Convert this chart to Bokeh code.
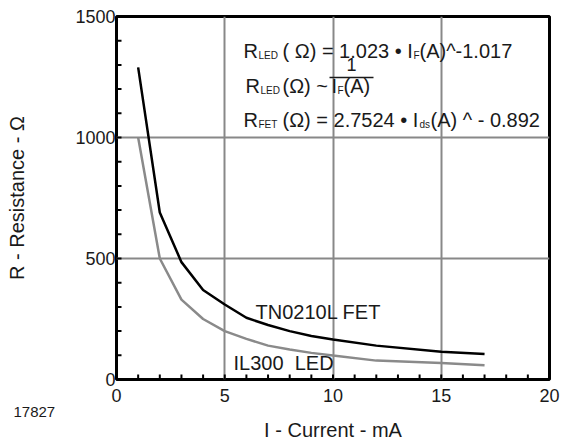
from bokeh.plotting import figure
from bokeh.models import Range1d, SingleIntervalTicker, Label, Arrow, Title
from bokeh.embed import file_html
from bokeh.resources import INLINE

# ---- data ----
current_ma = [1, 2, 3, 4, 5, 6, 7, 8, 9, 10, 12, 15, 17]
fet_ohm = [1290, 690, 485, 370, 310, 255, 225, 200, 180, 165, 140, 115, 105]
led_ohm = [1000, 500, 330, 250, 200, 168, 140, 124, 110, 99, 78, 68, 59]

x_ticks_interval = 5
y_ticks_interval = 500
x_minor_step = 1
y_minor_step = 100

FONT = "Liberation Sans"
TXT = "#1a1a1a"

FRAME_L, FRAME_T, FRAME_W, FRAME_H = 116, 16, 433, 363  # image pixels
LABEL_DY = 8  # correction for Label baseline placement


def dx(px):
    return (px - FRAME_L) * 20.0 / FRAME_W


def dy(py):
    return (FRAME_T + FRAME_H - py) * 1500.0 / FRAME_H


p = figure(width=563, height=443, frame_width=FRAME_W, frame_height=FRAME_H,
           min_border_left=116, min_border_right=14, min_border_top=16, min_border_bottom=64,
           x_range=Range1d(0, 20), y_range=Range1d(0, 1500),
           output_backend="svg", toolbar_location=None)

p.background_fill_color = "white"
p.border_fill_color = "white"
p.outline_line_color = "black"
p.outline_line_width = 3

for ax, iv in ((p.xaxis[0], x_ticks_interval), (p.yaxis[0], y_ticks_interval)):
    ax.ticker = SingleIntervalTicker(interval=iv, num_minor_ticks=5)
    ax.axis_line_color = None
    ax.major_tick_line_color = None
    ax.minor_tick_line_color = None
    ax.major_tick_in = 0
    ax.major_tick_out = 0
    ax.minor_tick_in = 0
    ax.minor_tick_out = 0
    ax.major_label_text_font = FONT
    ax.major_label_text_font_size = "18px"
    ax.major_label_text_color = TXT
    ax.axis_label_text_font = FONT
    ax.axis_label_text_font_size = "20px"
    ax.axis_label_text_font_style = "normal"
    ax.axis_label_text_color = TXT

p.yaxis.axis_label = "R - Resistance - Ω"
p.xaxis.major_label_standoff = 9
p.yaxis.major_label_standoff = 1
p.yaxis.axis_label_standoff = 44

# figure id and x-axis title stacked below the tick labels
p.add_layout(Title(text="17827", align="left", offset=-103, standoff=0,
                   text_font=FONT, text_font_size="15px", text_font_style="normal",
                   text_color=TXT), "below")
p.add_layout(Title(text="I - Current - mA", align="center", standoff=0,
                   text_font=FONT, text_font_size="20px", text_font_style="normal",
                   text_color=TXT), "below")

p.xgrid.ticker = SingleIntervalTicker(interval=x_ticks_interval)
p.ygrid.ticker = SingleIntervalTicker(interval=y_ticks_interval)
for g in (p.xgrid[0], p.ygrid[0]):
    g.grid_line_color = "#888888"
    g.grid_line_width = 2

# inward tick marks, 5 px long
xt = [i * x_minor_step for i in range(0, 21)]
yt = [i * y_minor_step for i in range(0, 16)]
tick_y = 5 * 1500.0 / FRAME_H
tick_x = 5 * 20.0 / FRAME_W
p.segment(x0=xt, y0=[0] * len(xt), x1=xt, y1=[tick_y] * len(xt),
          line_color="black", line_width=2)
p.segment(x0=[0] * len(yt), y0=yt, x1=[tick_x] * len(yt), y1=yt,
          line_color="black", line_width=2)

p.line(current_ma, led_ohm, line_color="#8a8a8a", line_width=2.5)
p.line(current_ma, fet_ohm, line_color="black", line_width=2.5)


def lab(px, py, text, size, color=TXT, align="left"):
    p.add_layout(Label(x=dx(px), y=dy(py - LABEL_DY), text=text, text_font=FONT,
                       text_font_size=f"{size}px", text_color=color,
                       text_align=align, text_baseline="alphabetic"))


# curve labels
lab(255, 319, "TN0210L FET", 20)
lab(233, 370, "IL300\u00a0\u00a0LED", 20)

# equation line 1
lab(243, 58, "R", 20)
lab(258, 63, "LED", 10)
lab(282, 58, "(\u00a0Ω) = 1.023 • I", 20)
lab(413, 63, "F", 10)
lab(419, 58, "(A)^-1.017", 20)

# equation line 2
lab(245, 93, "R", 20)
lab(260, 98, "LED", 10)
lab(282, 93, "(Ω) ~", 20)
lab(351, 72, "1", 18, align="center")
p.add_layout(Arrow(end=None, x_start=dx(329), y_start=dy(77), x_end=dx(373), y_end=dy(77),
                   line_color=TXT, line_width=1.5))
lab(331, 93, "I", 20)
lab(337, 98, "F", 10)
lab(343, 93, "(A)", 20)

# equation line 3
lab(243, 127, "R", 20)
lab(258, 132, "FET", 10)
lab(282, 127, "(Ω) = 2.7524 • I", 20)
lab(419, 132, "ds", 10)
lab(430, 127, "(A) ^ - 0.892", 20)

open("out.html", "w").write(file_html(p, INLINE))
